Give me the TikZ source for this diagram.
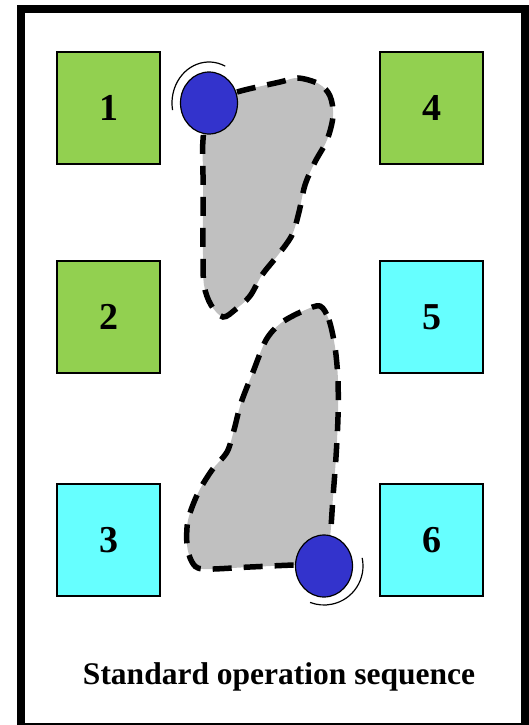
\documentclass[tikz,border=0pt]{standalone}
\usepackage{fontspec}
\setmainfont{Liberation Serif}
\usetikzlibrary{shapes.geometric}
\definecolor{padgreen}{HTML}{92D050}
\definecolor{padcyan}{HTML}{66FFFF}
\definecolor{robotblue}{HTML}{3333CC}
\definecolor{zonegray}{HTML}{C0C0C0}
\begin{document}
\begin{tikzpicture}[x=1pt,y=-1pt,
    pad/.style={draw,line width=1.5pt,minimum width=103pt,minimum height=112pt,inner sep=0pt,font=\fontsize{38}{40}\selectfont\bfseries},
    zone/.style={fill=zonegray,draw=black,line width=5.5pt,dash pattern=on 19pt off 12pt},
    robot/.style={ellipse,draw,fill=robotblue,line width=1.2pt,minimum width=57pt,minimum height=62pt,inner sep=0pt}]
  \path[clip] (0,0) rectangle (529,725);
  \draw[line width=8pt] (21,9) rectangle (525,727);
  % work areas
  \draw[zone] plot[smooth cycle,tension=0.55] coordinates {(209,103) (237,92) (280,82) (298,78) (319,84) (330,96) (333,116) (327,140) (315,162) (305,185) (299,212) (292,235) (278,255) (262,275) (250,296) (236,309) (223,317) (211,305) (204,285) (203,255) (203,215) (203,175) (203,140)};
  \draw[zone] plot[smooth cycle,tension=0.5] coordinates {(320,306) (329,320) (335,347) (338,380) (338,417) (336,457) (333,497) (330,537) (324,566) (296,565) (250,567) (203,569) (192,562) (187,545) (188,520) (198,493) (212,470) (227,452) (234,430) (241,403) (253,372) (266,340) (281,323) (303,311)};
  % pads
  \node[pad,fill=padgreen] (p1) at (108.5,108) {\raisebox{-2pt}{1}};
  \node[pad,fill=padgreen] (p2) at (108.5,317) {\raisebox{-2pt}{2}};
  \node[pad,fill=padcyan] (p3) at (108.5,540) {\raisebox{-2pt}{3}};
  \node[pad,fill=padgreen] (p4) at (431.5,108) {\raisebox{-2pt}{4}};
  \node[pad,fill=padcyan] (p5) at (431.5,317) {\raisebox{-2pt}{5}};
  \node[pad,fill=padcyan] (p6) at (431.5,540) {\raisebox{-2pt}{6}};
  % robots
  \node[robot] (rtop) at (209,103) {};
  \node[robot] (rbot) at (324,566) {};
  \draw[line width=1.2pt] (rtop.center) ++(-64:37 and 41) arc[start angle=-64,end angle=-190,x radius=37,y radius=41];
  \draw[line width=1.2pt] (rbot.center) ++(-12:39 and 39) arc[start angle=-12,end angle=111,x radius=39,y radius=39];
  \node[font=\fontsize{31.5}{34}\selectfont\bfseries] (caption) at (279,677) {Standard operation sequence};
\end{tikzpicture}
\end{document}
